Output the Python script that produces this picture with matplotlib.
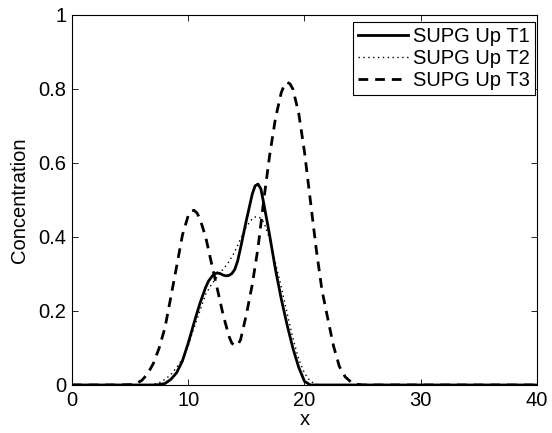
import matplotlib
matplotlib.use("Agg")
import matplotlib.pyplot as plt

# values
x_t1 = [0, 7, 7.5, 8, 8.5, 9, 9.5, 10, 10.5, 11, 11.5, 11.75, 12, 12.25, 12.5,
        12.75, 13, 13.25, 13.5, 13.75, 14, 14.25, 14.5, 15, 15.5, 15.75, 16,
        16.25, 16.5, 17, 17.5, 18, 18.5, 19, 19.5, 20, 20.5, 40]
y_t1 = [0, 0, 0.001, 0.004, 0.015, 0.033, 0.065, 0.113, 0.168, 0.22, 0.264,
        0.281, 0.292, 0.3, 0.303, 0.301, 0.297, 0.295, 0.296, 0.301, 0.312,
        0.335, 0.37, 0.445, 0.515, 0.538, 0.543, 0.53, 0.49, 0.405, 0.313,
        0.233, 0.163, 0.1, 0.048, 0.01, 0, 0]

x_t2 = [0, 6.5, 7, 7.5, 8, 8.5, 9, 9.5, 10, 10.5, 11, 11.5, 12, 12.5, 13,
        13.5, 14, 14.5, 15, 15.5, 15.75, 16, 16.25, 16.5, 17, 17.5, 18, 18.5,
        19, 19.5, 20, 20.5, 21, 21.5, 40]
y_t2 = [0, 0, 0.002, 0.006, 0.015, 0.028, 0.047, 0.07, 0.107, 0.155, 0.2,
        0.245, 0.272, 0.292, 0.313, 0.333, 0.36, 0.395, 0.428, 0.449, 0.454,
        0.455, 0.45, 0.44, 0.395, 0.33, 0.265, 0.195, 0.127, 0.07, 0.032,
        0.01, 0.002, 0, 0]

x_t3 = [0, 4, 5, 5.5, 6, 6.5, 7, 7.5, 8, 8.5, 9, 9.5, 10, 10.25, 10.5, 10.75,
        11, 11.5, 12, 12.5, 13, 13.5, 13.75, 14, 14.25, 14.5, 15, 15.5, 16,
        16.5, 17, 17.5, 18, 18.25, 18.5, 18.75, 19, 19.5, 20, 20.5, 21, 21.5,
        22, 22.5, 23, 23.5, 24, 24.5, 25, 40]
y_t3 = [0, 0, 0.001, 0.004, 0.012, 0.03, 0.058, 0.1, 0.155, 0.237, 0.32,
        0.405, 0.458, 0.47, 0.472, 0.465, 0.45, 0.4, 0.329, 0.26, 0.19, 0.132,
        0.113, 0.107, 0.108, 0.122, 0.19, 0.27, 0.37, 0.5, 0.62, 0.72, 0.79,
        0.81, 0.818, 0.814, 0.8, 0.735, 0.63, 0.5, 0.37, 0.257, 0.18, 0.105,
        0.05, 0.022, 0.008, 0.002, 0, 0]

labels = ["SUPG Up T1", "SUPG Up T2", "SUPG Up T3"]

plt.rcParams["font.family"] = ["Liberation Sans", "DejaVu Sans"]
plt.rcParams["font.size"] = 14.5

fig = plt.figure(figsize=(5.52, 4.33), dpi=100)
ax = fig.add_axes([0.1304, 0.1109, 0.8424, 0.8545])

ax.plot(x_t1, y_t1, color="black", linestyle="-", linewidth=2.0, label=labels[0])
ax.plot(x_t2, y_t2, color="black", linestyle=(0, (1, 2.5)), linewidth=1.0,
        label=labels[1])
ax.plot(x_t3, y_t3, color="black", linestyle=(0, (3.5, 2.5)), linewidth=2.0,
        label=labels[2])

ax.set_xlim(0, 40)
ax.set_ylim(0, 1)
ax.set_xticks([0, 10, 20, 30, 40])
ax.set_yticks([0, 0.2, 0.4, 0.6, 0.8, 1])
ax.set_yticklabels(["0", "0.2", "0.4", "0.6", "0.8", "1"])
ax.tick_params(direction="in", top=True, right=True, length=4, width=0.6,
               pad=4, labelsize=14.5)
for s in ax.spines.values():
    s.set_linewidth(0.8)

ax.set_xlabel("x", labelpad=0)
ax.set_ylabel("Concentration", labelpad=7)

leg = ax.legend(loc="upper right", bbox_to_anchor=(0.996, 0.981),
                borderaxespad=0, fancybox=False, framealpha=1,
                edgecolor="black", handlelength=2.5, handletextpad=0.25,
                labelspacing=0.15, borderpad=0.25)
leg.get_frame().set_linewidth(0.8)

fig.savefig("out.png", dpi=100)
